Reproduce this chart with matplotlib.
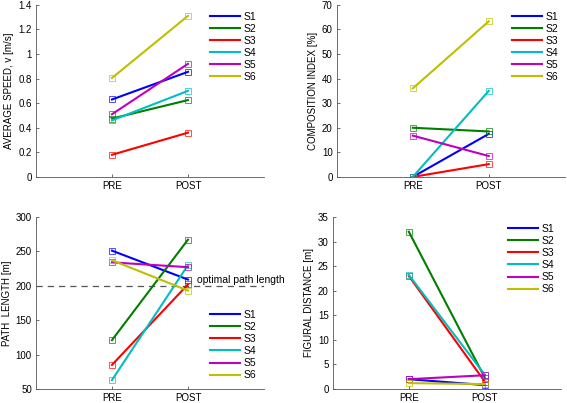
import numpy as np
import matplotlib.pyplot as plt

# Subjects and phases
subjects = ['S1', 'S2', 'S3', 'S4', 'S5', 'S6']
phases = ['PRE', 'POST']
colors = ['#0000ff', '#007f00', '#ff0000', '#00bfbf', '#bf00bf', '#bfbf00']

# Values (PRE, POST)
speed_pre = [0.63, 0.475, 0.18, 0.46, 0.51, 0.805]
speed_post = [0.855, 0.625, 0.36, 0.70, 0.92, 1.31]

comp_pre = [0, 20, 0, 0, 16.8, 36]
comp_post = [17.5, 18.5, 5.2, 35, 8.5, 63.3]

path_pre = [251, 121, 85, 63, 234, 237]
path_post = [209, 267, 202, 230, 227, 193]
optimal_path = 200

fig_pre = [2.0, 32.0, 23.0, 23.2, 2.0, 1.2]
fig_post = [0.8, 2.3, 1.5, 2.9, 2.8, 1.0]

plt.rcParams['font.family'] = 'Liberation Sans'
plt.rcParams['font.size'] = 7

fig = plt.figure(figsize=(5.67, 4.03), dpi=100)
w = 0.402
h = 0.427
ax1 = fig.add_axes([0.0635, 0.561, w, h])
ax2 = fig.add_axes([0.594, 0.561, w, h])
ax3 = fig.add_axes([0.0635, 0.0347, w, h])
ax4 = fig.add_axes([0.587, 0.0347, w, h])

def draw(ax, pre, post, ylim, yticks, ylabel, leg_xy):
    x = np.arange(1, len(phases) + 1)
    for i, s in enumerate(subjects):
        ax.plot(x, [pre[i], post[i]], color=colors[i], lw=1.5, label=s)
        ax.plot(x, [pre[i], post[i]], ls='none', marker='s', markersize=5,
                markerfacecolor='none', markeredgecolor=colors[i],
                markeredgewidth=0.6, alpha=0.8)
    ax.set_xlim(0, 3)
    ax.set_ylim(*ylim)
    ax.set_xticks(x)
    ax.set_xticklabels(phases)
    ax.set_yticks(yticks)
    ax.set_yticklabels([('%g' % t) for t in yticks])
    ax.set_ylabel(ylabel, labelpad=3)
    for sp in ['top', 'right']:
        ax.spines[sp].set_visible(False)
    for sp in ['left', 'bottom']:
        ax.spines[sp].set_color('#555555')
        ax.spines[sp].set_linewidth(0.6)
    ax.tick_params(direction='in', length=2, width=0.6, colors='#555555',
                   labelcolor='black', pad=3)
    ax.legend(loc='upper left', bbox_to_anchor=leg_xy, frameon=False,
              handlelength=2.9, handletextpad=0.3, labelspacing=0.2,
              borderpad=0, borderaxespad=0, fontsize=7.5)

draw(ax1, speed_pre, speed_post, (0, 1.4), np.arange(0, 1.41, 0.2),
     'AVERAGE SPEED, v [m/s]', (0.763, 0.96))
draw(ax2, comp_pre, comp_post, (0, 70), np.arange(0, 71, 10),
     'COMPOSITION INDEX [%]', (0.768, 0.96))
draw(ax3, path_pre, path_post, (50, 300), np.arange(50, 301, 50),
     'PATH  LENGTH [m]', (0.763, 0.46))
draw(ax4, fig_pre, fig_post, (0, 35), np.arange(0, 36, 5),
     'FIGURAL DISTANCE [m]', (0.768, 0.96))

ax3.axhline(optimal_path, color='#555555', ls=(0, (5, 4)), lw=0.9, zorder=0)
ax3.text(2.12, optimal_path + 8, 'optimal path length', fontsize=7.5,
         va='center', ha='left')

fig.savefig('out.png', dpi=100)
